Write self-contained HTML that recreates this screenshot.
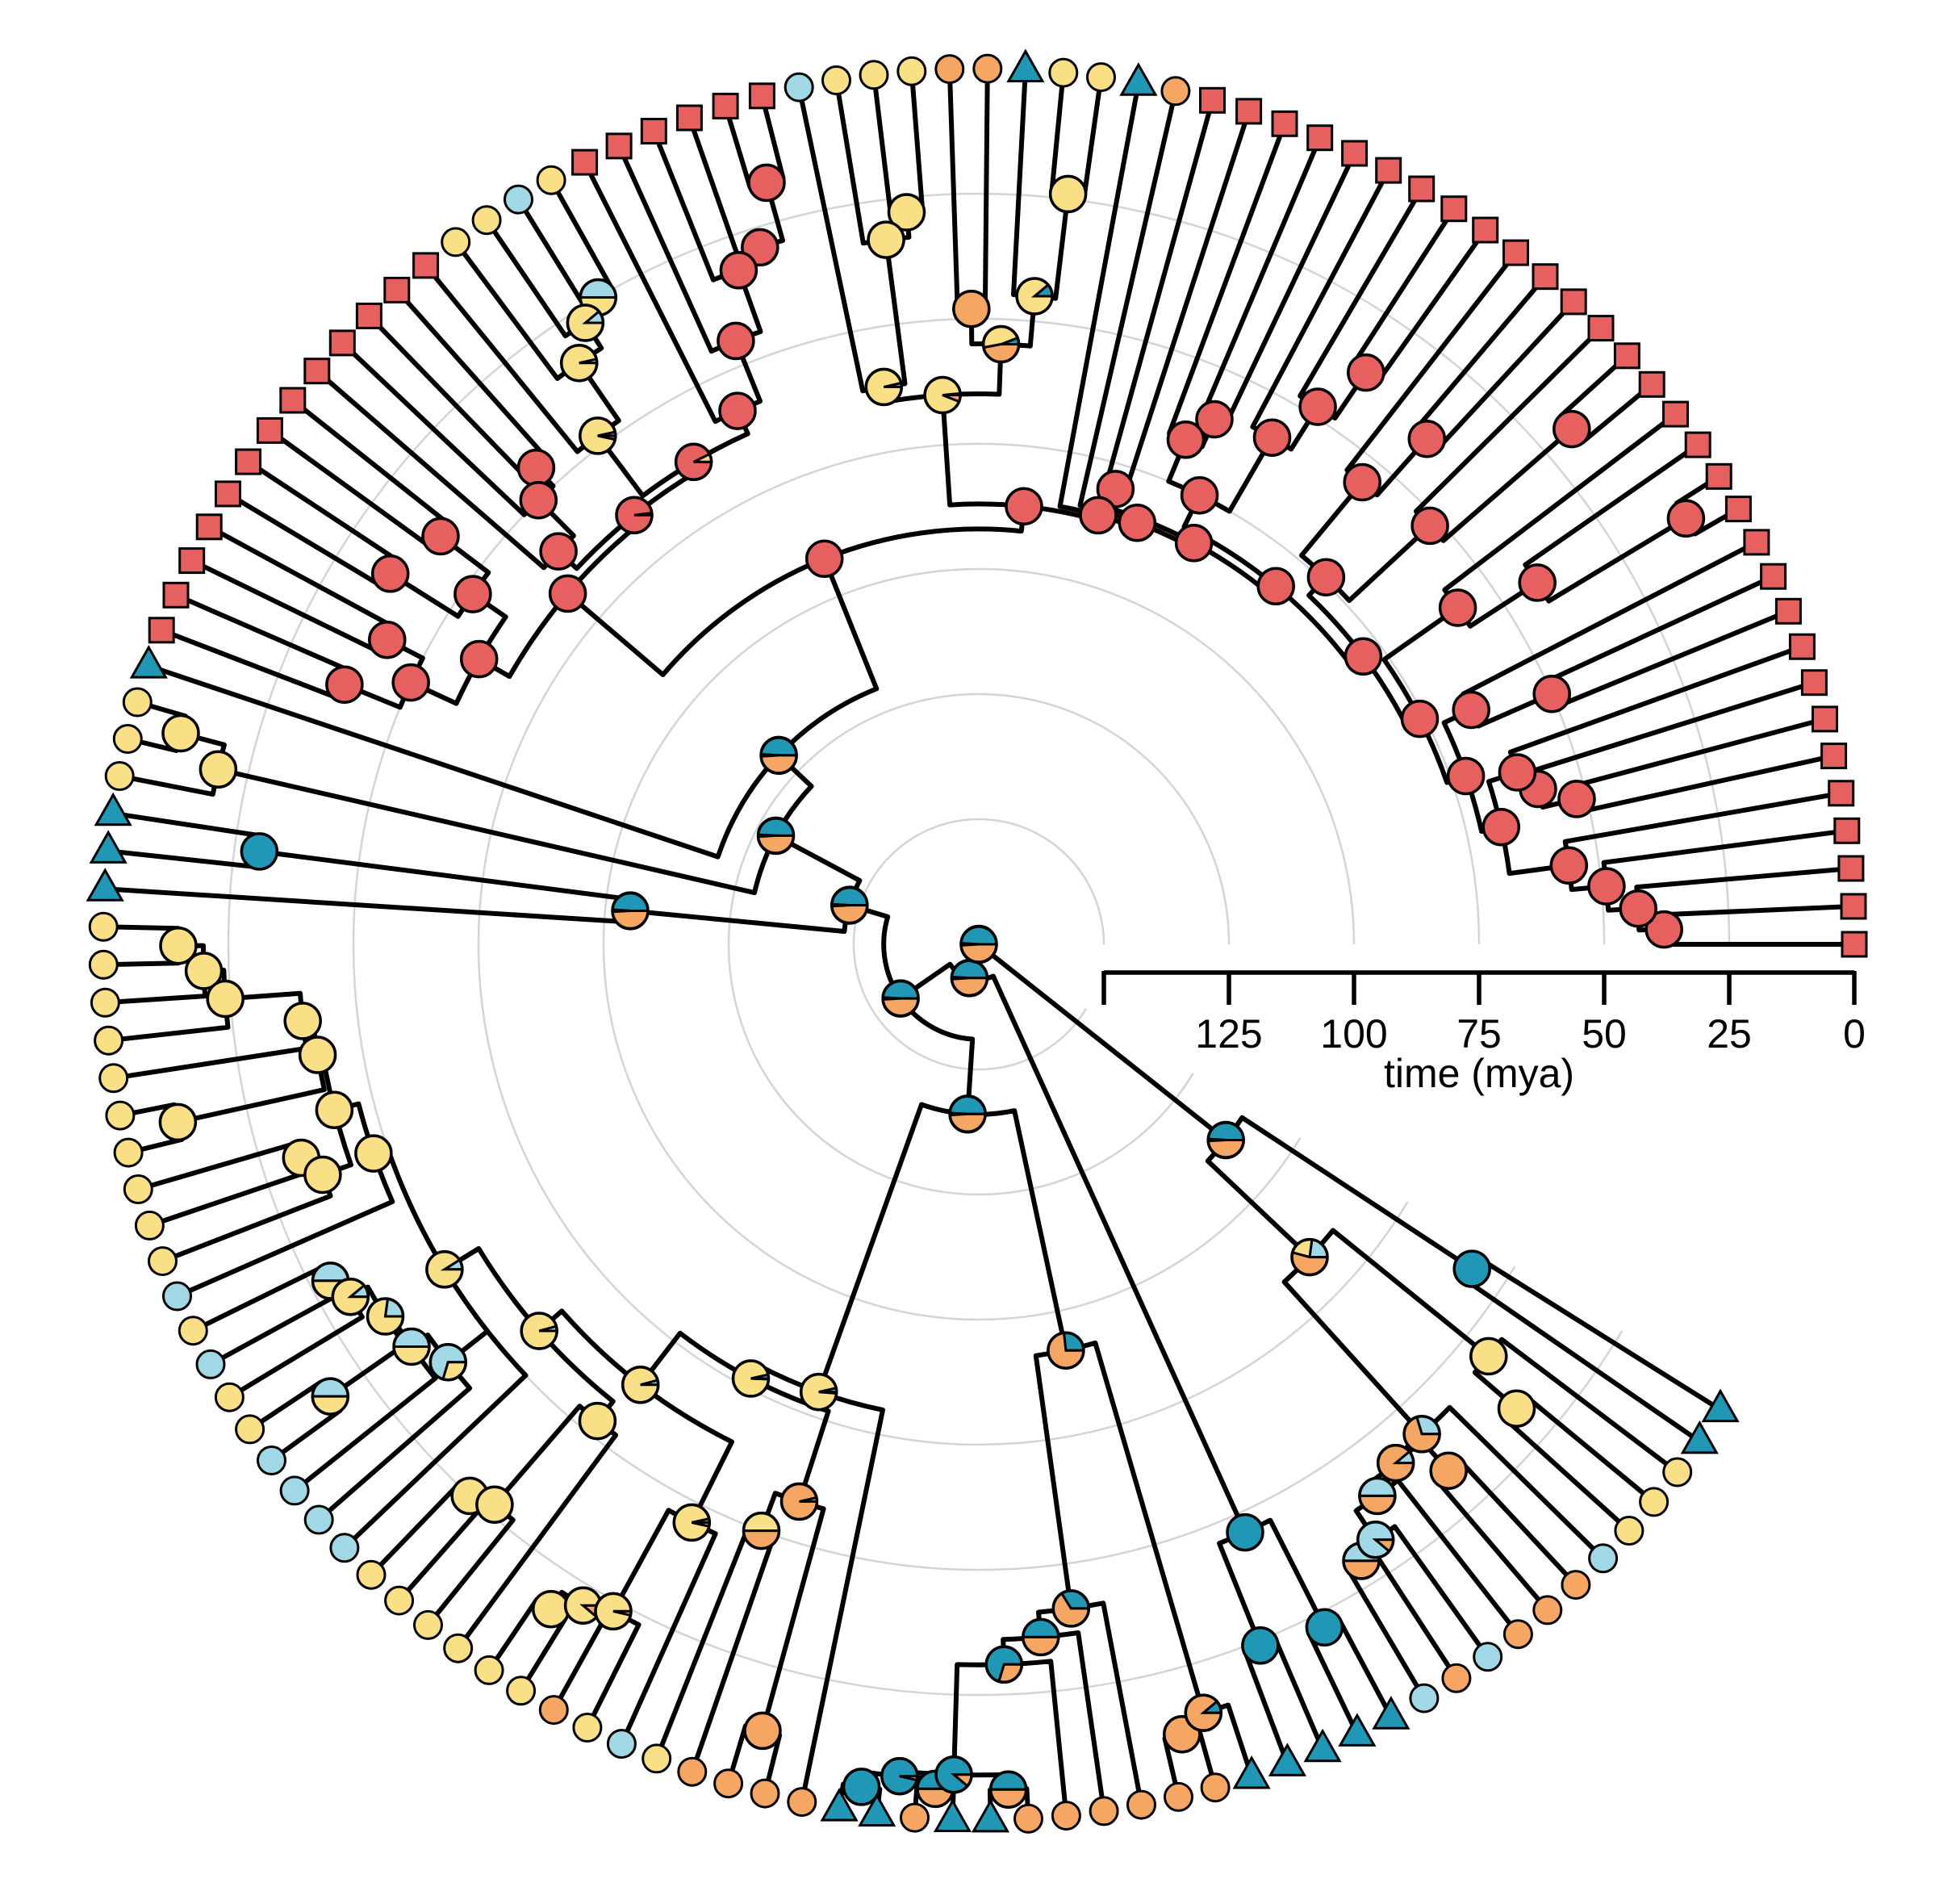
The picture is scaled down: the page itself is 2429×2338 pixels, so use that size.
<!DOCTYPE html>
<html><head><meta charset="utf-8">
<style>
html,body{margin:0;padding:0;background:#fff;}
svg{display:block;}
text{font-family:"Liberation Sans",Arial,sans-serif;}
</style></head>
<body>
<svg id="s" xmlns="http://www.w3.org/2000/svg" width="2429" height="2338" viewBox="0 0 2429 2338">
<rect width="2429" height="2338" fill="#fff"/>
<g id="grid"></g>
<g id="br"></g>
<g id="nodes"></g>
<g id="axis" stroke="#000" stroke-width="5.5" fill="none">
<line x1="1368" y1="1205" x2="2298" y2="1205"/>
<line x1="1368" y1="1203" x2="1368" y2="1245"/>
<line x1="1523" y1="1203" x2="1523" y2="1245"/>
<line x1="1678" y1="1203" x2="1678" y2="1245"/>
<line x1="1833" y1="1203" x2="1833" y2="1245"/>
<line x1="1988" y1="1203" x2="1988" y2="1245"/>
<line x1="2143" y1="1203" x2="2143" y2="1245"/>
<line x1="2298" y1="1203" x2="2298" y2="1245"/>
</g>
<g font-size="50" text-anchor="middle" fill="#000">
<text x="1523" y="1298">125</text>
<text x="1678" y="1298">100</text>
<text x="1833" y="1298">75</text>
<text x="1988" y="1298">50</text>
<text x="2143" y="1298">25</text>
<text x="2298" y="1298">0</text>
<text x="1833" y="1347">time (mya)</text>
</g>
</svg>
<script>
(function(){
var CX=1213, CY=1170, PX=6.2, ROOTAGE=175, STEP=327.9/132;
function R(a){return (ROOTAGE-a)*PX;}
var COL={b:"#2097B5",l:"#A0D9E5",y:"#F9DF85",o:"#F6A663",r:"#E5605F"};
var ORDER=["b","l","y","o","r"];
var tipsStr="rrrrrrrrrrrrrrrrrrrrrrrrrrrrrrr"+"obyybooyyyl"+"rrrrrr"+"ylyy"+"rrrrrrrrrrrrr"+"b"+"yyy"+"bbb"+"yyyyyyyyyy"+"lylyy"+"llll"+"yyyyyy"+"oyly"+"oooo"+"bbobb"+"oooooo"+"bbbbb"+"lolooolyyy"+"bb";
var tips=tipsStr.split("");
var g1="((((0,1)@38,2)@43,3)@49,4)@56";
var g2="(((5,6)@52,7)@59,8)@62";
var g3="((9,10)@50,11)@66";
var g12="(("+g1+","+g2+")@68,"+g3+")@72";
var g4="(((12,13)@10,14)@42,15)@58";
var g5="((16,17)@18,18)@52";
var g6="((19,20)@40,21)@55";
var g7="(((22,23)@37,24)@48,25)@58";
var g8="((26,27)@60,28)@66";
var RR="((((("+"("+g12+","+g4+")@76,("+g5+","+g6+")@74)@79,("+g7+","+g8+")@75)@82,(29,30)@80)@84,31)@85,32)@86";
var YO="((((33,34)@24,35)@45,(36,37)@48)@55,(((38,39)@28,40)@33,41)@62)@65";
var LR1="(((((42,43)@17,44)@29,45)@32,46)@45,47)@58";
var LR2="((((48,49)@25,50)@28,51)@34,52)@48";
var LR3="(((53,54)@45,55)@50,56)@60";
var LR4="(((57,58)@40,(59,60)@36)@52,((61,62)@42,(63,64)@38)@50)@60";
var LR="((("+LR1+","+LR2+")@63,"+LR3+")@65,"+LR4+")@67";
var U="("+RR+","+YO+")@87";
var T="("+U+","+LR+")@92";
var N6="("+T+",65)@120";
var N5="("+N6+",((66,67)@10,68)@19)@129";
var N3="("+N5+",((69,70)@30,71)@105)@148";
var A="((((72,73)@15,74)@20,75)@24,76)@39";
var TOP="((("+A+",(77,78)@11)@41,((79,80)@33,81)@36)@42,82)@47";
var D="(((((83,84)@29,85)@31,(86,87)@17)@35,88)@36,89)@40";
var N735="("+TOP+","+D+",90)@50";
var Q4="(((91,92)@25,93)@27,94)@53";
var Q2="("+N735+","+Q4+")@58";
var Q3="((((95,96)@17,97)@21,98)@23,99)@46";
var Q1="("+Q2+","+Q3+")@64";
var P2="((100,101)@50,(102,103)@12)@58";
var P1="(("+Q1+","+P2+")@77,104)@80";
var BB="(((105,106)@5,(107,108)@6)@8,(109,110)@6)@9";
var BL="(((("+BB+",111)@31,112)@36,113)@41,((114,115)@12,116)@15)@92";
var N4="("+P1+","+BL+")@141";
var N2="("+N3+","+N4+")@156";
var BT="((117,118)@24,(119,120)@22)@46";
var N1="("+N2+","+BT+")@168";
var V="((((((121,122)@30,123)@32,124)@39,(125,126)@34)@42,127)@43,((128,129)@33,130)@44)@84";
var RC="("+V+",(131,132)@57)@112";
var ROOT="("+N1+","+RC+")@175";

function parse(s){var i=0;
 function node(){
  if(s[i]=="("){i++;var ch=[node()];while(s[i]==","){i++;ch.push(node());}
   i++; i++; var m=/^[\d.]+/.exec(s.slice(i)); i+=m[0].length; return {ch:ch,age:+m[0]};}
  var m2=/^\d+/.exec(s.slice(i)); i+=m2[0].length; return {tip:+m2[0],age:0};
 }
 return node();}
var root=parse(ROOT);
function lay(n){
 n.cnt={b:0,l:0,y:0,o:0,r:0};
 if(n.ch===undefined){n.ang=n.tip*STEP;n.cnt[tips[n.tip]]=1;return;}
 n.ch.forEach(function(c){lay(c);for(var k in c.cnt)n.cnt[k]+=c.cnt[k];});
 n.ang=(n.ch[0].ang+n.ch[n.ch.length-1].ang)/2;
}
lay(root);
function pt(r,a){var t=a*Math.PI/180;return [CX+r*Math.cos(t),CY-r*Math.sin(t)];}
function f(v){return v.toFixed(1);}
var br="",nodes="",tipsSvg="";
function draw(n){
 if(n.ch===undefined)return;
 var r=R(n.age);
 var a0=n.ch[0].ang,a1=n.ch[n.ch.length-1].ang;
 if(r>1){
  var p0=pt(r,a0),p1=pt(r,a1);var large=(a1-a0)>180?1:0;
  br+="M"+f(p0[0])+" "+f(p0[1])+"A"+f(r)+" "+f(r)+" 0 "+large+" 0 "+f(p1[0])+" "+f(p1[1]);
 }
 n.ch.forEach(function(c){
  var q0=pt(r,c.ang),q1=pt(R(c.age),c.ang);
  br+="M"+f(q0[0])+" "+f(q0[1])+"L"+f(q1[0])+" "+f(q1[1]);
  draw(c);
 });
}
draw(root);
function pie(n){
 if(n.ch===undefined)return;
 n.ch.forEach(pie);
 var p=pt(R(n.age),n.ang),cx=p[0],cy=p[1],rr=22;
 var fr={};var tot=0;
 if(n.age>=100){fr={b:0.5,o:0.5,y:0.02};tot=1.02;}
 else{ORDER.forEach(function(k){fr[k]=Math.pow(n.cnt[k],3);tot+=fr[k];});}
 var nz=ORDER.filter(function(k){return fr[k]/tot>0.005;});
 if(nz.length==1){nodes+='<circle cx="'+f(cx)+'" cy="'+f(cy)+'" r="'+rr+'" fill="'+COL[nz[0]]+'" stroke="#000" stroke-width="3.5"/>';return;}
 var a=0;
 nz.forEach(function(k){
  var d=fr[k]/tot*360;var s0=a*Math.PI/180,s1=(a+d)*Math.PI/180;
  var x0=cx+rr*Math.cos(s0),y0=cy-rr*Math.sin(s0),x1=cx+rr*Math.cos(s1),y1=cy-rr*Math.sin(s1);
  nodes+='<path d="M'+f(cx)+' '+f(cy)+'L'+f(x0)+' '+f(y0)+'A'+rr+' '+rr+' 0 '+(d>180?1:0)+' 0 '+f(x1)+' '+f(y1)+'Z" fill="'+COL[k]+'" stroke="#000" stroke-width="3"/>';
  a+=d;
 });
 nodes+='<circle cx="'+f(cx)+'" cy="'+f(cy)+'" r="'+rr+'" fill="none" stroke="#000" stroke-width="3.5"/>';
}
pie(root);
for(var i=0;i<tips.length;i++){
 var p=pt(R(0),i*STEP),x=p[0],y=p[1],c=tips[i];
 if(c=="r")tipsSvg+='<rect x="'+f(x-15)+'" y="'+f(y-15)+'" width="30" height="30" fill="'+COL.r+'" stroke="#000" stroke-width="3"/>';
 else if(c=="b")tipsSvg+='<path d="M'+f(x)+' '+f(y-23)+'L'+f(x+21)+' '+f(y+14)+'L'+f(x-21)+' '+f(y+14)+'Z" fill="'+COL.b+'" stroke="#000" stroke-width="3"/>';
 else tipsSvg+='<circle cx="'+f(x)+'" cy="'+f(y)+'" r="17" fill="'+COL[c]+'" stroke="#000" stroke-width="3"/>';
}
var grid="";
for(var k=1;k<=6;k++){var r=155*k;var p0=pt(r,0),p1=pt(r,329);
 grid+='<path d="M'+f(p0[0])+' '+f(p0[1])+'A'+r+' '+r+' 0 1 0 '+f(p1[0])+' '+f(p1[1])+'" fill="none" stroke="#d4d4d4" stroke-width="2.5"/>';}
document.getElementById("grid").innerHTML=grid;
document.getElementById("br").innerHTML='<path d="'+br+'" fill="none" stroke="#000" stroke-width="6" stroke-linecap="round" stroke-linejoin="round"/>';
document.getElementById("nodes").innerHTML=nodes+tipsSvg;
})();
</script>
</body></html>
